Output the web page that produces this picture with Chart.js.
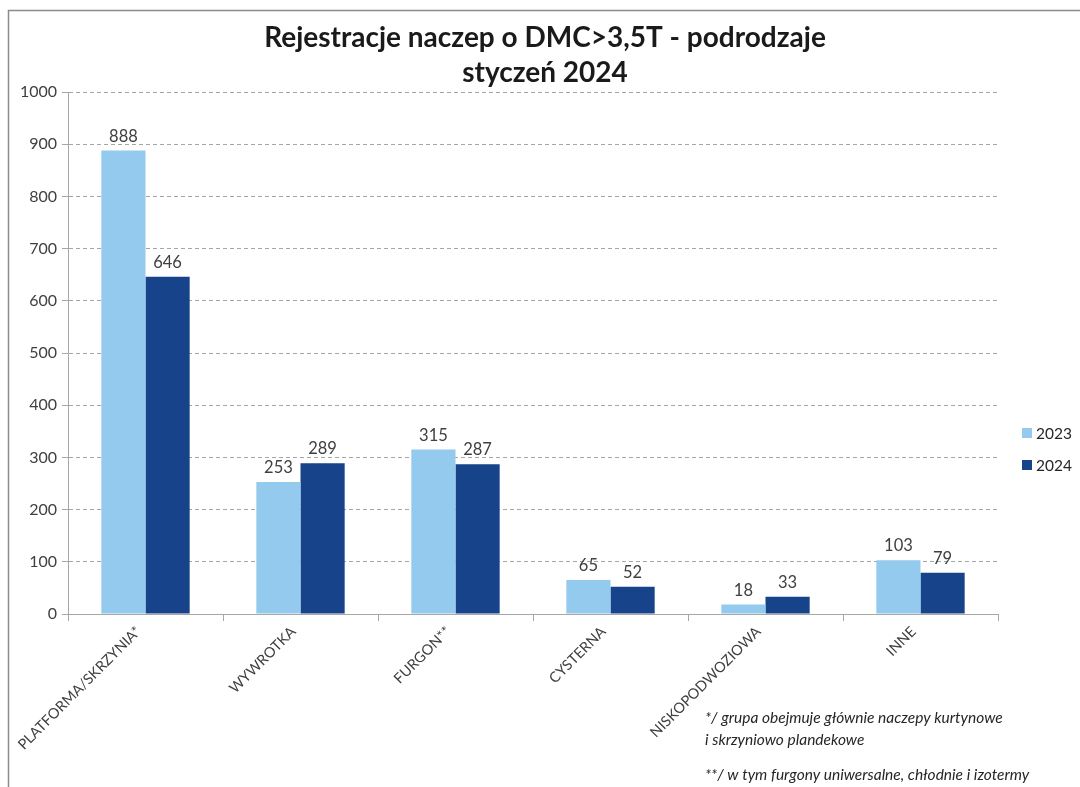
<!DOCTYPE html>
<html>
<head>
<meta charset="utf-8">
<script src="https://cdn.jsdelivr.net/npm/chart.js@4.4.1/dist/chart.umd.min.js"></script>
<style>
  html, body { margin: 0; padding: 0; background: #ffffff; }
  #wrap { width: 1080px; height: 787px; position: relative; }
</style>
</head>
<body>
<div id="wrap"><canvas id="c" width="1080" height="787"></canvas></div>
<script>
const categories = ['PLATFORMA/SKRZYNIA*', 'WYWROTKA', 'FURGON**', 'CYSTERNA', 'NISKOPODWOZIOWA', 'INNE'];
const seriesNames = ['2023', '2024'];
const values2023 = [888, 253, 315, 65, 18, 103];
const values2024 = [646, 289, 287, 52, 33, 79];
const yTicks = [0, 100, 200, 300, 400, 500, 600, 700, 800, 900, 1000];
const titleLines = ['Rejestracje naczep o DMC>3,5T - podrodzaje', 'styczeń 2024'];
const footnotes = [
  '*/ grupa obejmuje głównie naczepy kurtynowe',
  'i skrzyniowo plandekowe',
  '**/ w tym furgony uniwersalne, chłodnie i izotermy'
];
const colors = ['#94caee', '#17438a'];

const FONT = "Lato, 'Open Sans', 'Liberation Sans', sans-serif";
const TXT = '#404040';

const framePlugin = {
  id: 'frame',
  beforeDraw(chart) {
    const ctx = chart.ctx;
    ctx.save();
    ctx.fillStyle = '#ffffff';
    ctx.fillRect(0, 0, chart.width, chart.height);
    ctx.strokeStyle = '#8c8c8c';
    ctx.lineWidth = 1.5;
    ctx.beginPath();
    ctx.moveTo(8.5, chart.height + 2);
    ctx.lineTo(8.5, 10.5);
    ctx.lineTo(chart.width + 2, 10.5);
    ctx.stroke();
    ctx.restore();
  }
};

const titlePlugin = {
  id: 'customTitle',
  afterDraw(chart) {
    const ctx = chart.ctx;
    ctx.save();
    ctx.font = 'bold 28px ' + FONT;
    ctx.fillStyle = '#1a1a1a';
    ctx.textAlign = 'center';
    ctx.textBaseline = 'middle';
    ctx.fillText(titleLines[0], 545, 38);
    ctx.fillText(titleLines[1], 545, 73);
    ctx.restore();
  }
};

const labelsPlugin = {
  id: 'valueLabels',
  afterDatasetsDraw(chart) {
    const ctx = chart.ctx;
    ctx.save();
    ctx.font = '16.5px ' + FONT;
    ctx.fillStyle = TXT;
    ctx.textAlign = 'center';
    ctx.textBaseline = 'bottom';
    chart.data.datasets.forEach((ds, di) => {
      const meta = chart.getDatasetMeta(di);
      meta.data.forEach((bar, i) => {
        ctx.fillText(String(ds.data[i]), bar.x, bar.y - 6);
      });
    });
    ctx.restore();
  }
};

const legendPlugin = {
  id: 'sideLegend',
  afterDraw(chart) {
    const ctx = chart.ctx;
    ctx.save();
    ctx.font = '15.5px ' + FONT;
    ctx.textBaseline = 'middle';
    ctx.textAlign = 'left';
    chart.data.datasets.forEach((ds, di) => {
      const y = 433 + di * 32;
      ctx.fillStyle = ds.backgroundColor;
      ctx.fillRect(1022, y - 5, 10, 10);
      ctx.fillStyle = '#262626';
      ctx.fillText(ds.label, 1036, y + 1);
    });
    ctx.restore();
  }
};

const notesPlugin = {
  id: 'notes',
  afterDraw(chart) {
    const ctx = chart.ctx;
    ctx.save();
    ctx.font = 'italic 15.5px ' + FONT;
    ctx.fillStyle = '#262626';
    ctx.textBaseline = 'middle';
    ctx.textAlign = 'left';
    const ys = [718, 740, 775];
    footnotes.forEach((t, i) => ctx.fillText(t, 705, ys[i]));
    ctx.restore();
  }
};

new Chart(document.getElementById('c'), {
  type: 'bar',
  data: {
    labels: categories,
    datasets: [
      { label: seriesNames[0], data: values2023, backgroundColor: colors[0] },
      { label: seriesNames[1], data: values2024, backgroundColor: colors[1] }
    ]
  },
  options: {
    responsive: false,
    animation: false,
    devicePixelRatio: 1,
    layout: { padding: { left: 0, right: 82, top: 92, bottom: 0 } },
    datasets: { bar: { categoryPercentage: 0.57, barPercentage: 1.0 } },
    plugins: {
      legend: { display: false },
      tooltip: { enabled: false },
      title: { display: false }
    },
    scales: {
      x: {
        afterFit(s) { s.height = 173; },
        grid: { display: true, drawOnChartArea: false, offset: true, tickLength: 7, tickColor: '#a6a6a6', color: '#a6a6a6' },
        border: { display: true, color: '#a6a6a6', width: 1 },
        ticks: {
          color: TXT,
          font: { family: FONT, size: 14.5 },
          minRotation: 45, maxRotation: 45,
          padding: 2,
          labelOffset: -7,
          autoSkip: false
        }
      },
      y: {
        min: 0, max: 1000,
        afterFit(s) { s.width = 68; },
        afterBuildTicks(s) { s.ticks = yTicks.map(v => ({ value: v })); },
        grid: { color: '#a6a6a6', lineWidth: 1, tickLength: 6, tickColor: '#a6a6a6', drawTicks: true },
        border: { display: true, color: '#a6a6a6', width: 1, dash: [4, 3] },
        ticks: {
          color: TXT,
          font: { family: FONT, size: 16 },
          padding: 5,
          callback: (v) => String(v)
        }
      }
    }
  },
  plugins: [framePlugin, titlePlugin, labelsPlugin, legendPlugin, notesPlugin]
});
</script>
</body>
</html>
